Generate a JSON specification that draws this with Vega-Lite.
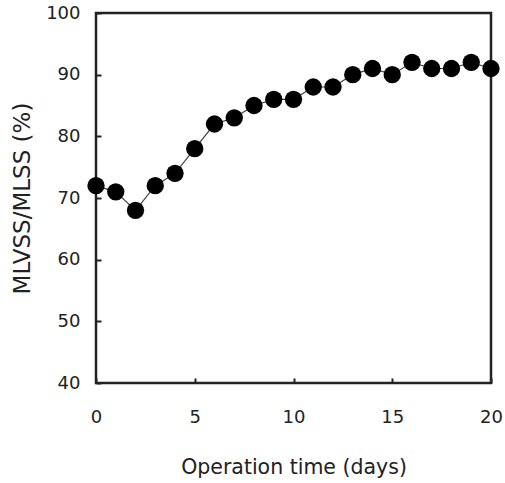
{
  "$schema": "https://vega.github.io/schema/vega-lite/v6.json",
  "autosize": {"type": "none"},
  "padding": {"left": 96, "top": 13, "right": 14, "bottom": 100},
  "width": 395,
  "height": 370,
  "background": "white",
  "config": {
    "view": {"stroke": "#222", "strokeWidth": 2.5},
    "font": "DejaVu Sans",
    "axis": {
      "grid": false,
      "domain": false,
      "tickColor": "#222",
      "tickSize": -5,
      "tickWidth": 2,
      "labelFontSize": 18,
      "labelColor": "#222",
      "labelFlush": false,
      "labelOverlap": false,
      "titleFontSize": 20.5,
      "titleFontWeight": "normal",
      "titleColor": "#222"
    }
  },
  "data": {
    "values": [
      {"t": 0, "v": 72}, {"t": 1, "v": 71}, {"t": 2, "v": 68}, {"t": 3, "v": 72},
      {"t": 4, "v": 74}, {"t": 5, "v": 78}, {"t": 6, "v": 82}, {"t": 7, "v": 83},
      {"t": 8, "v": 85}, {"t": 9, "v": 86}, {"t": 10, "v": 86}, {"t": 11, "v": 88},
      {"t": 12, "v": 88}, {"t": 13, "v": 90}, {"t": 14, "v": 91}, {"t": 15, "v": 90},
      {"t": 16, "v": 92}, {"t": 17, "v": 91}, {"t": 18, "v": 91}, {"t": 19, "v": 92},
      {"t": 20, "v": 91}
    ]
  },
  "encoding": {
    "x": {
      "field": "t", "type": "quantitative",
      "scale": {"domain": [0, 20], "nice": false},
      "axis": {"values": [0, 5, 10, 15, 20], "title": "Operation time (days)", "labelPadding": 30, "titlePadding": 31}
    },
    "y": {
      "field": "v", "type": "quantitative",
      "scale": {"domain": [40, 100], "nice": false, "zero": false},
      "axis": {"values": [40, 50, 60, 70, 80, 90, 100], "title": "MLVSS/MLSS (%)", "titleFontSize": 23, "labelPadding": 21, "titlePadding": 11}
    }
  },
  "layer": [
    {"mark": {"type": "line", "color": "#444", "strokeWidth": 1.2}},
    {"mark": {"type": "point", "filled": true, "color": "#000", "opacity": 1, "size": 300}}
  ]
}
